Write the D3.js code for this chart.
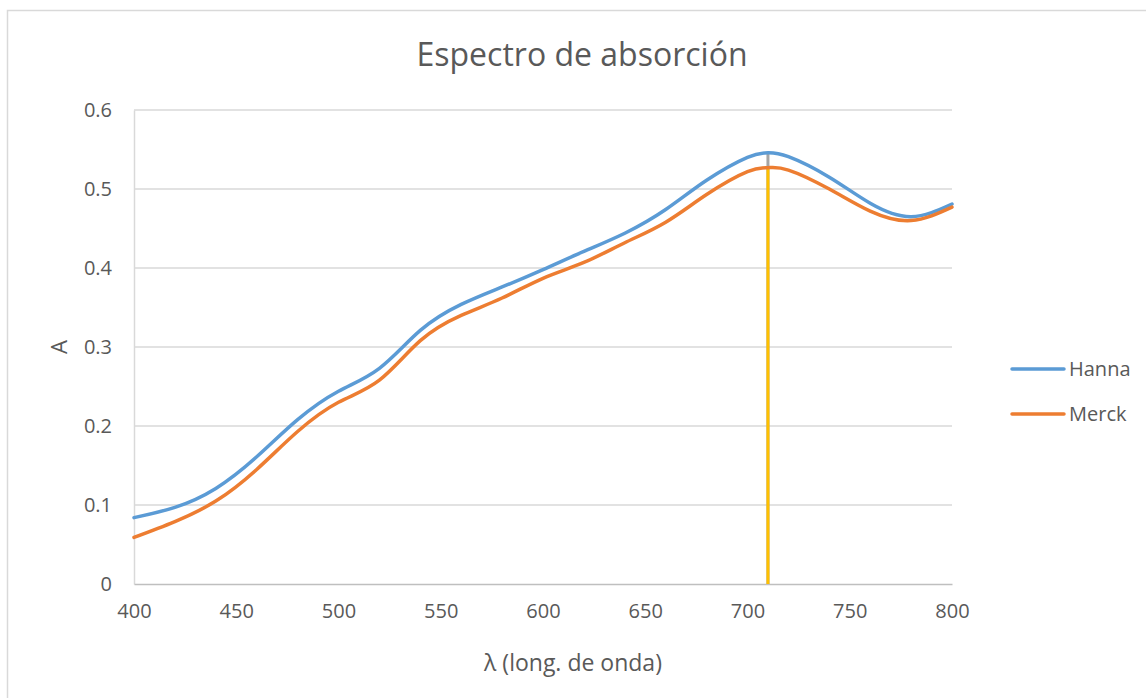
<!DOCTYPE html>
<html>
<head>
<meta charset="utf-8">
<script src="https://cdn.jsdelivr.net/npm/d3@7/dist/d3.min.js"></script>
<style>
  html, body { margin: 0; padding: 0; background: #ffffff; }
  svg { display: block; }
  text { font-family: "Open Sans", "Noto Sans", sans-serif; fill: #595959; }
</style>
</head>
<body>
<svg id="chart" width="1146" height="698"></svg>
<script>
// Wavelengths (nm) and absorbance for each standard
const wavelengths = [400, 420, 440, 460, 480, 500, 520, 540, 560, 580,
                     600, 620, 640, 660, 680, 700, 710, 720, 740, 760, 780, 800];
const hanna = [0.084, 0.097, 0.121, 0.161, 0.208, 0.244, 0.273, 0.321, 0.354, 0.376,
               0.398, 0.421, 0.444, 0.474, 0.511, 0.540, 0.546, 0.541, 0.515, 0.482, 0.465, 0.481];
const merck = [0.059, 0.079, 0.105, 0.145, 0.193, 0.230, 0.258, 0.308, 0.340, 0.362,
               0.387, 0.407, 0.432, 0.458, 0.493, 0.522, 0.527, 0.524, 0.500, 0.472, 0.460, 0.477];
const seriesNames = ["Hanna", "Merck"];
const seriesColors = ["#5b9bd5", "#ed7d31"];
const xTicks = [400, 450, 500, 550, 600, 650, 700, 750, 800];
const yTicks = [0, 0.1, 0.2, 0.3, 0.4, 0.5, 0.6];
const peakWavelength = 710;   // maximum absorption marker

const svg = d3.select("#chart");

// outer chart frame
svg.append("rect")
  .attr("x", 7.5).attr("y", 10.5)
  .attr("width", 1160).attr("height", 700)
  .attr("fill", "#fff").attr("stroke", "#d9d9d9").attr("stroke-width", 1.5);

const plot = { left: 134, right: 952, top: 110, bottom: 584 };
const x = d3.scaleLinear().domain([400, 800]).range([plot.left, plot.right]);
const y = d3.scaleLinear().domain([0, 0.6]).range([plot.bottom, plot.top]);

// horizontal gridlines
svg.append("g")
  .selectAll("line")
  .data(yTicks.filter(d => d > 0))
  .join("line")
  .attr("x1", plot.left).attr("x2", plot.right)
  .attr("y1", d => y(d)).attr("y2", d => y(d))
  .attr("stroke", "#d9d9d9").attr("stroke-width", 1.5);

// axes
const yAxis = svg.append("g")
  .attr("transform", `translate(${plot.left},0)`)
  .call(d3.axisLeft(y).tickValues(yTicks).tickFormat(d => d === 0 ? "0" : d3.format(".1f")(d)).tickSize(0).tickPadding(22));
yAxis.select(".domain").attr("stroke", "#d9d9d9").attr("stroke-width", 1.5);
yAxis.selectAll("text").attr("font-size", 20).style("font-family", "'Open Sans'").attr("fill", "#595959");

const xAxis = svg.append("g")
  .attr("transform", `translate(0,${plot.bottom})`)
  .call(d3.axisBottom(x).tickValues(xTicks).tickSize(0).tickPadding(20));
xAxis.select(".domain").attr("stroke", "#bfbfbf").attr("stroke-width", 1.5);
xAxis.selectAll("text").attr("font-size", 20).style("font-family", "'Open Sans'").attr("fill", "#595959");

// maximum absorption markers
const peakIdx = wavelengths.indexOf(peakWavelength);
svg.append("line")
  .attr("x1", x(peakWavelength)).attr("x2", x(peakWavelength))
  .attr("y1", y(0)).attr("y2", y(hanna[peakIdx]))
  .attr("stroke", "#a5a5a5").attr("stroke-width", 3);
svg.append("line")
  .attr("x1", x(peakWavelength)).attr("x2", x(peakWavelength))
  .attr("y1", y(0)).attr("y2", y(merck[peakIdx]))
  .attr("stroke", "#ffc000").attr("stroke-width", 3);

// smoothed spectra
const line = d3.line()
  .x(d => x(d[0])).y(d => y(d[1]))
  .curve(d3.curveNatural);
[hanna, merck].forEach((vals, i) => {
  svg.append("path")
    .datum(wavelengths.map((w, j) => [w, vals[j]]))
    .attr("d", line)
    .attr("fill", "none")
    .attr("stroke", seriesColors[i])
    .attr("stroke-width", 3.5)
    .attr("stroke-linecap", "round");
});

// title
svg.append("text")
  .attr("x", 582).attr("y", 66)
  .attr("text-anchor", "middle")
  .attr("font-size", 32)
  .text("Espectro de absorción");

// axis titles
svg.append("text")
  .attr("transform", `translate(67,347) rotate(-90)`)
  .attr("text-anchor", "middle")
  .attr("font-size", 22)
  .text("A");
svg.append("text")
  .attr("x", 573).attr("y", 671)
  .attr("text-anchor", "middle")
  .attr("font-size", 23)
  .text("λ (long. de onda)");

// legend
const legend = svg.append("g");
seriesNames.forEach((name, i) => {
  const ly = 369 + i * 45;
  legend.append("line")
    .attr("x1", 1012).attr("x2", 1064)
    .attr("y1", ly).attr("y2", ly)
    .attr("stroke", seriesColors[i]).attr("stroke-width", 3.5)
    .attr("stroke-linecap", "round");
  legend.append("text")
    .attr("x", 1069).attr("y", ly + 7)
    .attr("font-size", 20)
    .text(name);
});
</script>
</body>
</html>
